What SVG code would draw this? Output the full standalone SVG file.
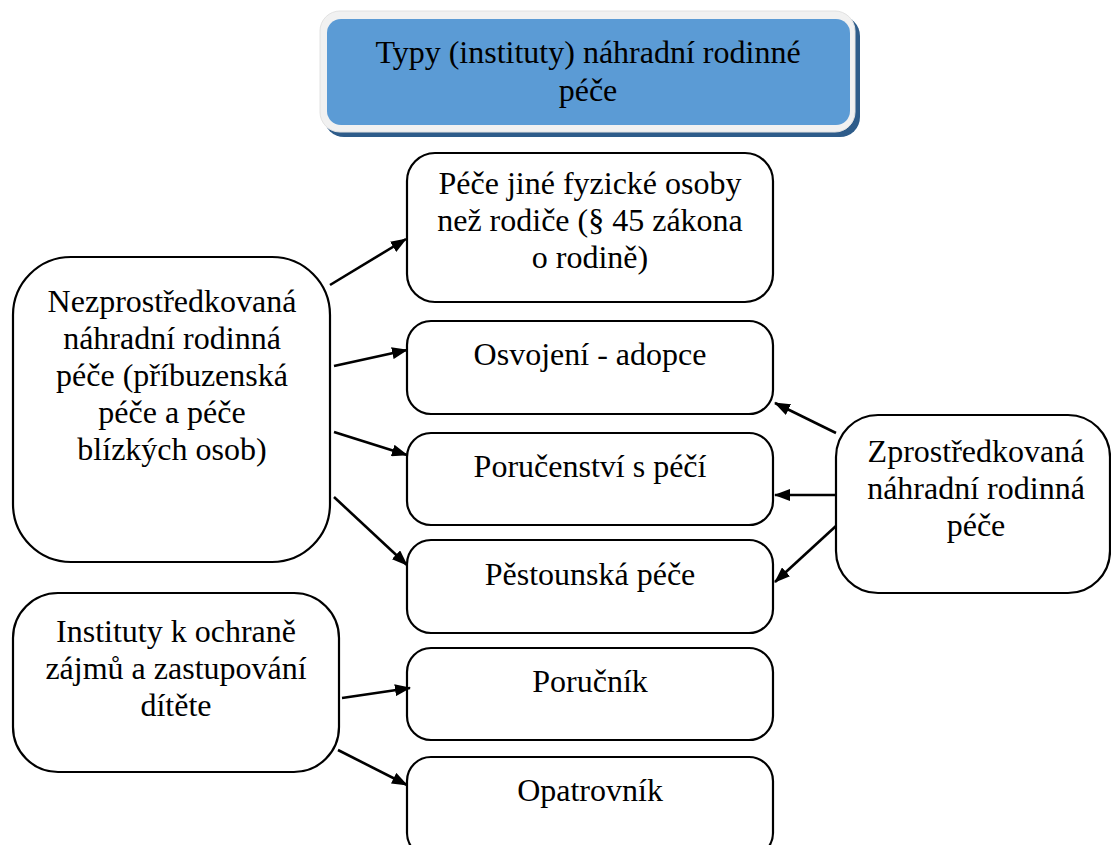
<svg xmlns="http://www.w3.org/2000/svg" width="1111" height="845" viewBox="0 0 1111 845">
<defs>
<marker id="ah3" viewBox="0 0 16 12" refX="15" refY="6" markerWidth="16" markerHeight="12" markerUnits="userSpaceOnUse" orient="auto">
<path d="M0,0 L16,6 L0,12 z" fill="#000"/>
</marker>
</defs>
<rect width="1111" height="845" fill="#fff"/>
<g font-family="Liberation Serif, Times New Roman, serif" font-size="32" text-anchor="middle" fill="#000">
<g id="title">
<rect x="324" y="16" width="536" height="121" rx="20" fill="#2E5C8A"/>
<rect x="320" y="11" width="535" height="121" rx="20" fill="#F1F1F1" stroke="#E2E2E2" stroke-width="1"/>
<rect x="327" y="19" width="523" height="106" rx="14" fill="#5B9BD5"/>
<text x="588" y="63">Typy (instituty) náhradní rodinné</text>
<text x="588" y="101">péče</text>
</g>
<g id="n1">
<rect x="407" y="153" width="366" height="149" rx="28" fill="#fff" stroke="#000" stroke-width="2.2"/>
<text x="590" y="194">Péče jiné fyzické osoby</text>
<text x="590" y="231">než rodiče (§ 45 zákona</text>
<text x="590" y="268">o rodině)</text>
</g>
<g id="n2">
<rect x="407" y="321" width="366" height="93" rx="24" fill="#fff" stroke="#000" stroke-width="2.2"/>
<text x="590" y="365">Osvojení - adopce</text>
</g>
<g id="n3">
<rect x="407" y="433" width="366" height="92" rx="24" fill="#fff" stroke="#000" stroke-width="2.2"/>
<text x="590" y="477">Poručenství s péčí</text>
</g>
<g id="n4">
<rect x="407" y="540" width="366" height="93" rx="24" fill="#fff" stroke="#000" stroke-width="2.2"/>
<text x="590" y="585">Pěstounská péče</text>
</g>
<g id="n5">
<rect x="407" y="648" width="366" height="92" rx="24" fill="#fff" stroke="#000" stroke-width="2.2"/>
<text x="590" y="692">Poručník</text>
</g>
<g id="n6">
<rect x="407" y="757" width="366" height="100" rx="24" fill="#fff" stroke="#000" stroke-width="2.2"/>
<text x="590" y="801">Opatrovník</text>
</g>
<g id="left1">
<rect x="13" y="257" width="317" height="305" rx="58" fill="#fff" stroke="#000" stroke-width="2.2"/>
<text x="172" y="312">Nezprostředkovaná</text>
<text x="172" y="349">náhradní rodinná</text>
<text x="172" y="386">péče (příbuzenská</text>
<text x="172" y="423">péče a péče</text>
<text x="172" y="460">blízkých osob)</text>
</g>
<g id="left2">
<rect x="13" y="593" width="326" height="179" rx="45" fill="#fff" stroke="#000" stroke-width="2.2"/>
<text x="176" y="642">Instituty k ochraně</text>
<text x="176" y="679">zájmů a zastupování</text>
<text x="176" y="716">dítěte</text>
</g>
<g id="right">
<rect x="836" y="415" width="274" height="178" rx="42" fill="#fff" stroke="#000" stroke-width="2.2"/>
<text x="976" y="462">Zprostředkovaná</text>
<text x="976" y="499">náhradní rodinná</text>
<text x="976" y="536">péče</text>
</g>
</g>
<g id="connectors" stroke="#000" stroke-width="2.6" fill="none" marker-end="url(#ah3)">
<line x1="330" y1="285" x2="406" y2="239"/>
<line x1="334" y1="366" x2="407" y2="350"/>
<line x1="334" y1="432" x2="407" y2="455"/>
<line x1="334" y1="497" x2="407" y2="565"/>
<line x1="342" y1="698" x2="410" y2="688"/>
<line x1="338" y1="750" x2="407" y2="785"/>
<line x1="836" y1="433" x2="775" y2="403"/>
<line x1="836" y1="495" x2="775" y2="495"/>
<line x1="836" y1="526" x2="775" y2="582"/>
</g>
</svg>
